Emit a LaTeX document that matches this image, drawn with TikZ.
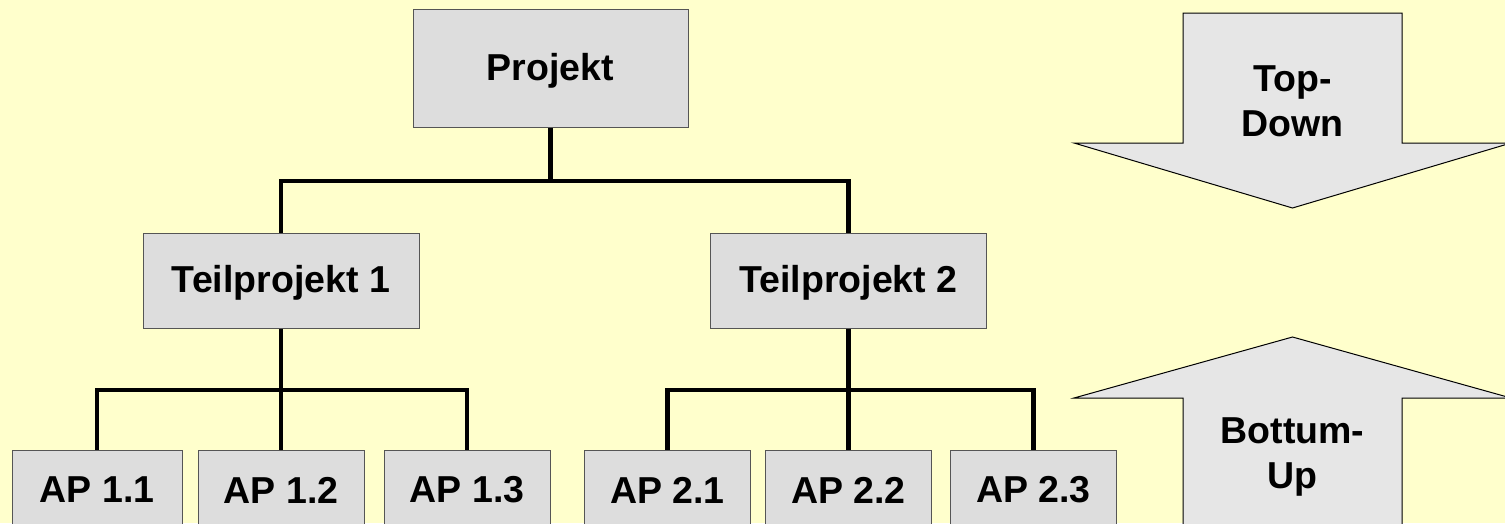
\documentclass[tikz,border=0pt]{standalone}
\usepackage{fontspec}
\setmainfont{Liberation Sans}
\definecolor{bg}{HTML}{FFFFCC}
\definecolor{boxfill}{HTML}{DDDDDD}
\definecolor{arrowfill}{HTML}{E6E6E6}
\definecolor{boxline}{HTML}{555555}
\tikzset{
  box/.style={draw=boxline, line width=1pt, fill=boxfill, inner sep=0pt,
    font=\fontsize{37.5}{44}\selectfont\bfseries},
  apbox/.style={box, minimum width=166pt, minimum height=80pt},
  tpbox/.style={box, minimum width=276pt, minimum height=95pt},
  link/.style={draw=black, line width=4.2pt},
  bigarrow/.style={draw=black, line width=1pt, fill=arrowfill, line join=miter},
  arrowtext/.style={align=center, inner sep=0pt, font=\fontsize{37.5}{45}\selectfont\bfseries},
  lbl/.style={inner sep=0pt, font=\fontsize{37.5}{44}\selectfont\bfseries}
}
\begin{document}
\begin{tikzpicture}[x=1pt,y=-1pt]
\useasboundingbox (0,0) rectangle (1505,523);
\clip (0,0) rectangle (1505,523);
\fill[bg] (0,0) rectangle (1505,523);

% arrows
\draw[bigarrow] (1183,13) -- (1402,13) -- (1402,143) -- (1511,143) -- (1292.5,208) -- (1074,143) -- (1183,143) -- cycle;
\draw[bigarrow] (1292.5,337) -- (1511,398) -- (1402,398) -- (1402,560) -- (1183,560) -- (1183,398) -- (1074,398) -- cycle;
\node[arrowtext] (td) at (1292.5,101) {Top-\\Down};
\node[arrowtext] (bu) at (1292.5,457) {Bottum-\\Up};

% nodes
\node[box, minimum width=275pt, minimum height=118pt] (p) at (550.5,68) {};
\node[lbl] (pl) at (550.5,71) {Projekt};
\node[tpbox] (tp1) at (281,280.5) {};
\node[lbl] (tp1l) at (281,283) {Teilprojekt 1};
\node[tpbox] (tp2) at (848.5,280.5) {};
\node[lbl] (tp2l) at (848.5,283) {Teilprojekt 2};
\node[apbox, minimum width=170pt] (a11) at (97,490) {AP 1.1};
\node[apbox] (a12) at (281,490) {AP 1.2};
\node[apbox] (a13) at (467,490) {AP 1.3};
\node[apbox] (a21) at (667.5,490) {AP 2.1};
\node[apbox] (a22) at (848.5,490) {AP 2.2};
\node[apbox] (a23) at (1033.5,490) {AP 2.3};

% junctions
\coordinate (j0) at (550.5,181);
\coordinate (j1) at (281,390);
\coordinate (j2) at (848.5,390);

% connectors
\draw[link] (p.south) -- (j0);
\draw[link] (tp1.north) |- (j0) -| (tp2.north);
\draw[link] (tp1.south) -- (j1);
\draw[link] (a11.north) |- (j1) -| (a13.north);
\draw[link] (j1) -- (a12.north);
\draw[link] (tp2.south) -- (j2);
\draw[link] (a21.north) |- (j2) -| (a23.north);
\draw[link] (j2) -- (a22.north);
\end{tikzpicture}
\end{document}
